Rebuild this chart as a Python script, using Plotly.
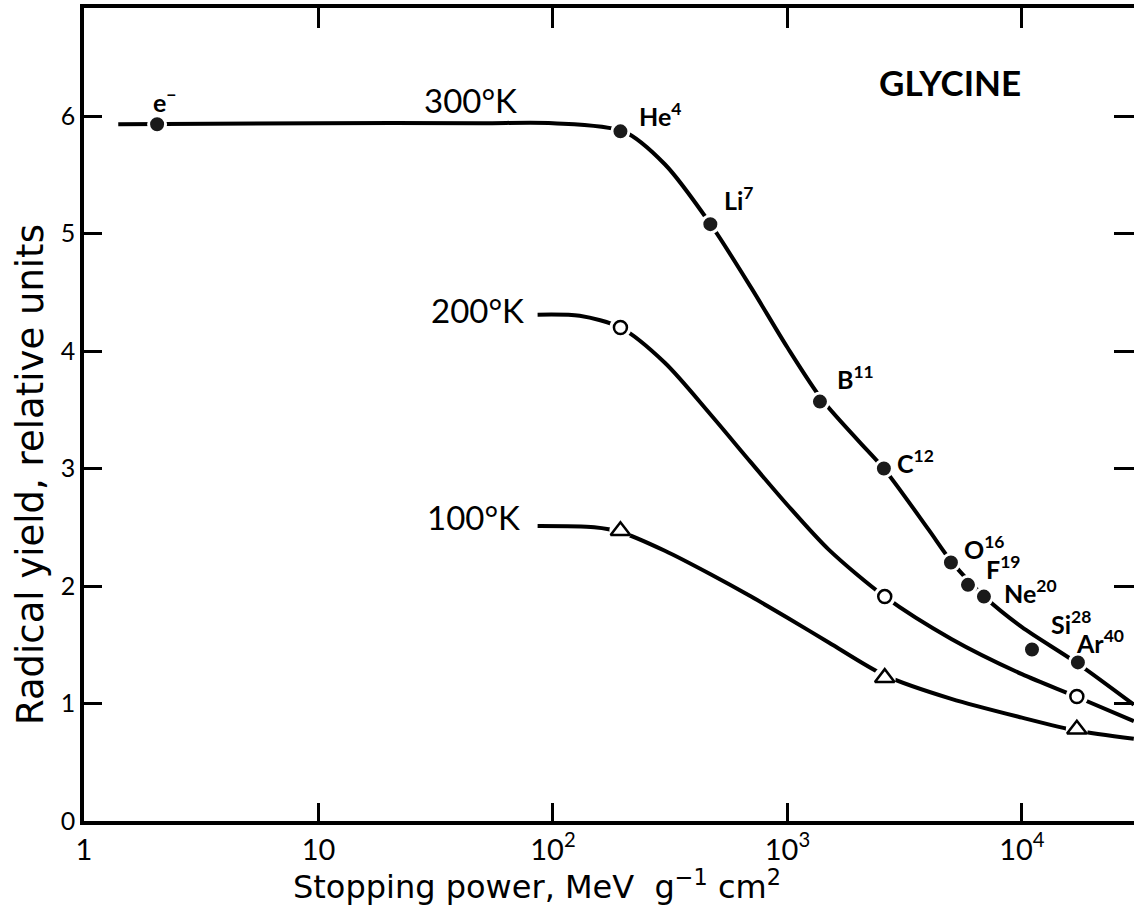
import numpy as np
import plotly.graph_objects as go

# ---------------- data ----------------
# 300 K curve (smooth line)
curve300_x = [1.4, 10, 50, 100, 200, 300, 470, 700, 1000, 1400, 2000, 2600, 4000, 5000, 7000, 10000, 17000, 30000]
curve300_y = [5.93, 5.94, 5.94, 5.94, 5.87, 5.59, 5.08, 4.54, 4.03, 3.59, 3.24, 2.99, 2.48, 2.21, 1.90, 1.65, 1.35, 0.99]

# 200 K curve
curve200_x = [86, 130, 194, 300, 470, 700, 1000, 1500, 2600, 5000, 10000, 17000, 30000]
curve200_y = [4.31, 4.30, 4.20, 3.90, 3.46, 3.05, 2.69, 2.31, 1.91, 1.55, 1.25, 1.06, 0.85]

# 100 K curve
curve100_x = [86, 150, 194, 300, 470, 700, 1000, 1500, 2600, 5000, 10000, 17000, 30000]
curve100_y = [2.51, 2.50, 2.46, 2.30, 2.10, 1.91, 1.73, 1.52, 1.24, 1.04, 0.88, 0.77, 0.70]

# 300 K measured points (ions)
ion_names = ["e<sup>−</sup>", "He<sup>4</sup>", "Li<sup>7</sup>", "B<sup>11</sup>", "C<sup>12</sup>",
             "O<sup>16</sup>", "F<sup>19</sup>", "Ne<sup>20</sup>", "Si<sup>28</sup>", "Ar<sup>40</sup>"]
ion_x = [2.05, 194, 469, 1376, 2578, 4980, 5888, 6886, 11040, 17330]
ion_y = [5.93, 5.87, 5.08, 3.57, 3.00, 2.20, 2.01, 1.91, 1.46, 1.35]

# 200 K points (open circles) and 100 K points (triangles)
pts200_x = [194, 2600, 17150]
pts200_y = [4.20, 1.91, 1.06]
pts100_x = [194, 2600, 17150]
pts100_y = [2.47, 1.22, 0.78]

temp_labels = ["300°K", "200°K", "100°K"]

x_tickvals = [1, 10, 100, 1000, 10000]
x_ticktext = ["1", "10", "10<sup>2</sup>", "10<sup>3</sup>", "10<sup>4</sup>"]
y_tickvals = [0, 1, 2, 3, 4, 5, 6]
y_ticktext = ["0", "1", "2", "3", "4", "5", "6"]

# ---------------- figure ----------------
FONT = "Lato"
WIDE = "DejaVu Sans"
W, H = 1134, 918
ML, MR, MT, MB = 84, 0, 8, 97
XR = [0, 4.478]
YR = [0, 6.92]

fig = go.Figure()

line_style = dict(color="black", width=4, shape="spline", smoothing=0.8)
for cx, cy in [(curve300_x, curve300_y), (curve200_x, curve200_y), (curve100_x, curve100_y)]:
    fig.add_trace(go.Scatter(x=cx, y=cy, mode="lines", line=line_style, hoverinfo="skip"))

# white halos (gaps in the line around the points)
for px_, py_ in [(pts200_x, pts200_y), (pts100_x, pts100_y)]:
    fig.add_trace(go.Scatter(x=px_, y=py_, mode="markers",
                             marker=dict(symbol="circle", size=22, color="white"),
                             hoverinfo="skip"))

fig.add_trace(go.Scatter(x=ion_x, y=ion_y, mode="markers",
                         marker=dict(symbol="circle", size=17, color="#1a1a1a",
                                     line=dict(color="white", width=3))))
fig.add_trace(go.Scatter(x=pts200_x, y=pts200_y, mode="markers",
                         marker=dict(symbol="circle-open", size=13, color="black",
                                     line=dict(color="black", width=2.5))))
fig.add_trace(go.Scatter(x=pts100_x, y=pts100_y, mode="markers",
                         marker=dict(symbol="triangle-up-open", size=17, color="black",
                                     line=dict(color="black", width=2.5))))

# invisible trace to activate the mirrored (top/right) tick axes
fig.add_trace(go.Scatter(x=ion_x, y=ion_y, xaxis="x2", yaxis="y2", mode="markers",
                         marker=dict(opacity=0), hoverinfo="skip"))

# ion labels, offset in pixels from their points
ion_offsets = [(8, 24, "center"), (17, 17, "left"), (12, 26, "left"), (15, 24, "left"),
               (11, 7, "left"), (11, 15, "left"), (16, 17, "left"), (18, 5, "left"),
               (17, 27, "left"), (-4, 21, "left")]
for name, x, y, (dx, dy, anc) in zip(ion_names, ion_x, ion_y, ion_offsets):
    fig.add_annotation(x=np.log10(x), y=y, xref="x", yref="y", text=f"<b>{name}</b>", showarrow=False,
                       xanchor=anc, yanchor="middle", xshift=dx, yshift=dy,
                       font=dict(family=FONT, size=25, color="black"))

# temperature labels
temp_pos = [(1.650, 6.14), (1.680, 4.35), (1.663, 2.59)]
for t, (lx, ly) in zip(temp_labels, temp_pos):
    fig.add_annotation(x=lx, y=ly, xref="x", yref="y", text=t, showarrow=False,
                       xanchor="center", yanchor="middle",
                       font=dict(family=FONT, size=33, color="black"))

fig.add_annotation(x=3.693, y=6.29, xref="x", yref="y", text="<b>GLYCINE</b>", showarrow=False,
                   xanchor="center", yanchor="middle", font=dict(family=FONT, size=35, color="black"))

# axis titles
fig.add_annotation(x=(537 - ML) / (W - ML - MR), y=(H - MB - 885) / (H - MT - MB), xref="paper", yref="paper",
                   text="Stopping power, MeV  g<sup>−1</sup> cm<sup>2</sup>", showarrow=False,
                   xanchor="center", yanchor="middle", font=dict(family=WIDE, size=32, color="black"))
fig.add_annotation(x=(30 - ML) / (W - ML - MR), y=(H - MB - 475) / (H - MT - MB), xref="paper", yref="paper",
                   text="Radical yield, relative units", textangle=-90, showarrow=False,
                   xanchor="center", yanchor="middle", font=dict(family=WIDE, size=37, color="black"))

fig.update_layout(
    width=W, height=H,
    margin=dict(l=ML, r=MR, t=MT, b=MB),
    paper_bgcolor="white", plot_bgcolor="white",
    showlegend=False,
    xaxis=dict(type="log", range=XR, tickvals=x_tickvals, ticktext=x_ticktext,
               ticks="inside", ticklen=18, tickwidth=2.5, tickcolor="black",
               showline=True, linecolor="black", linewidth=3.5,
               showgrid=False, zeroline=False,
               tickfont=dict(family=FONT, size=29, color="black")),
    yaxis=dict(range=YR, tickvals=y_tickvals, ticktext=y_ticktext,
               ticks="inside", ticklen=18, tickwidth=2.5, tickcolor="black",
               showline=True, linecolor="black", linewidth=3.5,
               showgrid=False, zeroline=False,
               tickfont=dict(family=FONT, size=25, color="black")),
    xaxis2=dict(type="log", range=XR, overlaying="x", side="top", anchor="y",
                tickvals=x_tickvals[1:], ticks="inside", ticklen=20, tickwidth=2.5, tickcolor="black",
                showticklabels=False, showline=True, linecolor="black", linewidth=4,
                showgrid=False, zeroline=False),
    yaxis2=dict(range=YR, overlaying="y", side="right", anchor="x",
                tickvals=y_tickvals[1:], ticks="inside", ticklen=20, tickwidth=2.5, tickcolor="black",
                showticklabels=False, showline=False, showgrid=False, zeroline=False),
)

fig.write_html("out.html")
